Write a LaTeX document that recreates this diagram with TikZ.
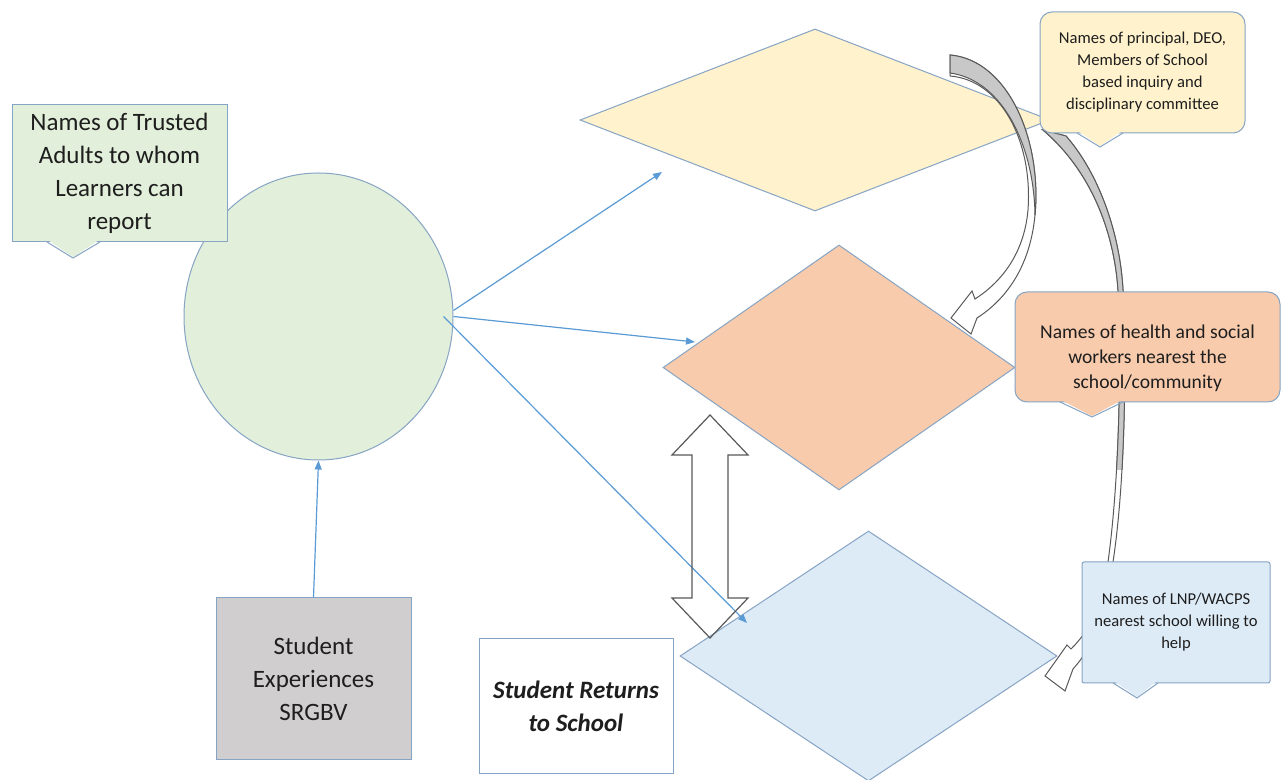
\documentclass[tikz,border=0pt]{standalone}
\usepackage{fontspec}
\setmainfont{Carlito}
\usepackage{tikz}
\usetikzlibrary{arrows.meta,positioning,shapes.geometric}
\definecolor{leaf}{HTML}{E2EFDA}
\definecolor{cream}{HTML}{FFF2CC}
\definecolor{peach}{HTML}{F8CBAD}
\definecolor{sky}{HTML}{DDEBF7}
\definecolor{stone}{HTML}{D0CECE}
\definecolor{edgeline}{HTML}{86A4C4}
\definecolor{flowblue}{HTML}{5B9BD5}
\definecolor{bandline}{HTML}{595959}
\definecolor{bandgray}{HTML}{C8C8C8}
\definecolor{ink}{HTML}{1E1E1E}
\newcommand\bigtext{\fontsize{12.5}{16.5}\selectfont}
\newcommand\midtext{\fontsize{9.8}{12.5}\selectfont}
\newcommand\smalltext{\fontsize{8.3}{11}\selectfont}
\newcommand\bandB{(1043,130) .. controls (1090,170) and (1114,230) .. (1118,290) .. controls (1122,380) and (1118,490) .. (1108,562) .. controls (1100,612) and (1088,632) .. (1071,649) -- (1067,645) -- (1045,676) -- (1065,691) -- (1073,669) .. controls (1092,648) and (1106,618) .. (1113,562) .. controls (1124,490) and (1127,380) .. (1123,290) .. controls (1120,235) and (1100,175) .. (1066,136) -- cycle}

\begin{document}
\begin{tikzpicture}[x=0.5pt,y=-0.5pt,
  shapebox/.style={draw=edgeline, line width=0.5pt, inner sep=0pt, align=center, text=ink},
  flow/.style={draw=flowblue, line width=0.6pt, -{Triangle[length=4.5pt,width=3.5pt]}},
  band/.style={draw=bandline, line width=0.5pt, fill=white},
  tip/.style={draw=edgeline, line width=0.5pt}]

  \fill[white] (0,0) rectangle (1287,780);
  \useasboundingbox (0,0) rectangle (1287,780);

  \node[shapebox, diamond, fill=cream, minimum width=235pt, minimum height=91pt] (inquiry) at (815,120) {};
  \node[shapebox, diamond, fill=peach, minimum width=176pt, minimum height=122.5pt] (health) at (839,367.5) {};
  \node[shapebox, diamond, fill=sky, minimum width=188.5pt, minimum height=125pt] (lnp) at (868.5,656) {};
  \node[shapebox, ellipse, fill=leaf, minimum width=134.5pt, minimum height=143.5pt] (report) at (318.5,316.5) {};

  \node[shapebox, fill=stone, minimum width=97.5pt, minimum height=81pt, font=\bigtext] (event) at (313.5,679) {Student\\Experiences\\SRGBV};
  \node[shapebox, fill=white, minimum width=97pt, minimum height=67.5pt, font=\bigtext\bfseries\itshape] (back) at (576,706.5) {Student Returns\\to School};

  \coordinate (toinquiry) at (662,172);
  \coordinate (tohealth) at (695,342);
  \coordinate (tolnp) at (747,623);
  \draw[flow] (event.north) -- (report.south);
  \draw[flow] ([yshift=3pt]report.east) -- (toinquiry);
  \draw[flow] (report.east) -- (tohealth);
  \draw[flow] ([xshift=-5pt]report.east) -- (tolnp);

  \draw[draw=bandline, line width=0.6pt] (710,415) -- (748,455) -- (728,455) -- (728,598) -- (748,598) -- (710,638) -- (672,598) -- (692,598) -- (692,455) -- (672,455) -- cycle;

  \filldraw[band] (950,55) .. controls (1008,60) and (1042,140) .. (1035,215) .. controls (1030,268) and (1005,300) .. (977,318) -- (971,334) -- (951,318) -- (972,291) -- (975,299) .. controls (1000,283) and (1024,255) .. (1028,210) .. controls (1033,140) and (1000,80) .. (950,76) -- cycle;
  \filldraw[draw=bandline, fill=bandgray, line width=0.5pt] (950,55) .. controls (1008,60) and (1042,140) .. (1035,215) .. controls (1034,145) and (1002,80) .. (950,73) -- cycle;

  \filldraw[band] \bandB;
  \begin{scope}
    \clip (1000,100) rectangle (1200,470);
    \filldraw[draw=bandline, fill=bandgray, line width=0.5pt] \bandB;
  \end{scope}

  \node[shapebox, fill=leaf, minimum width=107.5pt, minimum height=68.5pt, font=\bigtext] (trusted) at (119.5,173.5) {Names of Trusted\\Adults to whom\\Learners can\\report};
  \fill[leaf] (48,240) -- (99,240) -- (73,257) -- cycle;
  \draw[tip] (47,242) -- (73,258) -- (100,242);

  \node[shapebox, fill=cream, rounded corners=6pt, minimum width=102.5pt, minimum height=60.5pt, font=\smalltext] (committee) at (1142.5,72.5) {Names of principal, DEO,\\Members of School\\based inquiry and\\disciplinary committee};
  \fill[cream] (1078,131) -- (1122,131) -- (1100,146) -- cycle;
  \draw[tip] (1077,133) -- (1100,147) -- (1123,133);

  \node[shapebox, fill=peach, rounded corners=6pt, minimum width=132.5pt, minimum height=55pt] (workers) at (1147.5,347) {};
  \node[font=\midtext, align=center, text=ink] (workerstext) at (1147.5,358) {Names of health and social\\workers nearest the\\school/community};
  \fill[peach] (1061,400) -- (1122,400) -- (1092,416) -- cycle;
  \draw[tip] (1060,402) -- (1092,417) -- (1123,402);

  \node[shapebox, fill=sky, rounded corners=1pt, minimum width=94pt, minimum height=60.5pt, font=\smalltext] (helpers) at (1176,622.5) {Names of LNP/WACPS\\nearest school willing to\\help};
  \fill[sky] (1114,681) -- (1157,681) -- (1137,697) -- cycle;
  \draw[tip] (1113,683) -- (1137,698) -- (1158,683);
\end{tikzpicture}
\end{document}
